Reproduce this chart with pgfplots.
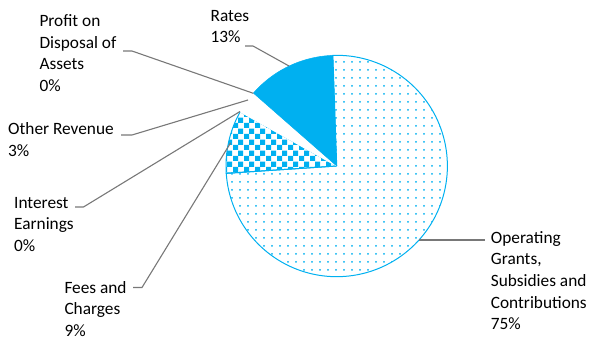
\documentclass[border=0pt]{standalone}
\usepackage{fontspec}
\setmainfont{Carlito}
\usepackage{pgfplots}
\pgfplotsset{compat=1.18}
\usetikzlibrary{patterns}
\definecolor{piebl}{RGB}{0,176,240}
\definecolor{leadgray}{RGB}{120,120,120}
\definecolor{txt}{RGB}{0,0,0}
\pgfdeclarepatternformonly{piedots}{\pgfqpoint{-1.2pt}{-1.2pt}}{\pgfqpoint{1.2pt}{1.2pt}}{\pgfqpoint{8pt}{8pt}}{\pgfpathcircle{\pgfpointorigin}{1pt}\pgfusepath{fill}}
\pgfdeclarepatternformonly{piechecker}{\pgfpointorigin}{\pgfqpoint{10.6pt}{10.6pt}}{\pgfqpoint{10.6pt}{10.6pt}}{\pgfpathrectangle{\pgfpointorigin}{\pgfqpoint{5.3pt}{5.3pt}}\pgfpathrectangle{\pgfqpoint{5.3pt}{5.3pt}}{\pgfqpoint{5.3pt}{5.3pt}}\pgfusepath{fill}}
% data (percent)
\def\vOper{74.5}
\def\vFees{9.2}
\def\vInt{0.0}
\def\vOther{3.3}
\def\vProfit{0.0}
\def\vRates{13.0}
% geometry (pixel units)
\def\cx{336.7}
\def\cy{166}
\def\rr{110.7}
\def\startang{92}
\pgfmathsetmacro\aA{\startang}
\pgfmathsetmacro\aB{\aA-3.6*\vOper}
\pgfmathsetmacro\aC{\aB-3.6*\vFees}
\pgfmathsetmacro\aD{\aC-3.6*\vInt}
\pgfmathsetmacro\aE{\aD-3.6*\vOther}
\pgfmathsetmacro\aF{\aE-3.6*\vProfit}
\pgfmathsetmacro\aG{\aF-3.6*\vRates}
\newcommand\lab[3]{\node[anchor=base west,inner sep=0pt,text=txt,font=\fontsize{17.3}{21.7}\selectfont] at (axis cs:#1,#2) {#3};}
\begin{document}
\begin{tikzpicture}
\begin{axis}[
  scale only axis, width=590pt, height=342pt,
  xmin=0, xmax=590, ymin=0, ymax=342, y dir=reverse,
  hide axis, clip=false,
]
\addplot[draw=none] coordinates {(0,0) (590,342)};
% slices
\addplot[pattern=piedots, pattern color=piebl, draw=piebl, line width=1pt, domain=\aB:\aA, samples=120, variable=\t]
  ({\cx+\rr*cos(\t)},{\cy-\rr*sin(\t)}) -- (axis cs:\cx,\cy) -- cycle;
\addplot[pattern=piechecker, pattern color=piebl, draw=piebl, line width=1pt, domain=\aC:\aB, samples=30, variable=\t]
  ({\cx+\rr*cos(\t)},{\cy-\rr*sin(\t)}) -- (axis cs:\cx,\cy) -- cycle;
\addplot[fill=white, draw=white, line width=1pt, domain=\aE:\aD, samples=20, variable=\t]
  ({\cx+\rr*cos(\t)},{\cy-\rr*sin(\t)}) -- (axis cs:\cx,\cy) -- cycle;
\addplot[fill=piebl, draw=piebl, line width=0.5pt, domain=\aG:\aF, samples=40, variable=\t]
  ({\cx+\rr*cos(\t)},{\cy-\rr*sin(\t)}) -- (axis cs:\cx,\cy) -- cycle;
% leader lines
\addplot[leadgray, line width=1.1pt] coordinates {(245,46) (253,46) (289,66)};
\addplot[leadgray, line width=1.1pt] coordinates {(123,51) (132,51) (253.3,93.3)};
\addplot[leadgray, line width=1.1pt] coordinates {(121,135) (132,135) (248,100)};
\addplot[leadgray, line width=1.1pt] coordinates {(75,207) (83.5,207) (240,111.5)};
\addplot[leadgray, line width=1.1pt] coordinates {(133,287.5) (142,287.5) (230.5,143)};
\addplot[leadgray, line width=1.1pt] coordinates {(419,240) (485,240)};
% labels
\lab{210.5}{21.7}{Rates}
\lab{210.5}{42.7}{13\%}
\lab{39.3}{26.7}{Profit on}
\lab{39.3}{48.3}{Disposal of}
\lab{39.3}{69.3}{Assets}
\lab{39.3}{91.3}{0\%}
\lab{8}{135}{Other Revenue}
\lab{8}{157}{3\%}
\lab{14}{208.3}{Interest}
\lab{14}{230}{Earnings}
\lab{14}{251.7}{0\%}
\lab{64.3}{293.3}{Fees and}
\lab{64.3}{315}{Charges}
\lab{64.3}{336.7}{9\%}
\lab{490.7}{243.3}{Operating}
\lab{490.7}{265}{Grants,}
\lab{490.7}{286.7}{Subsidies and}
\lab{490.7}{308.3}{Contributions}
\lab{490.7}{330}{75\%}
\end{axis}
\end{tikzpicture}
\end{document}
